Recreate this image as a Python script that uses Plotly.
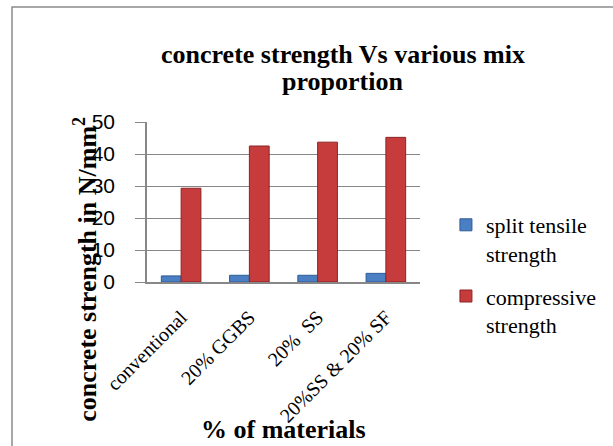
import plotly.graph_objects as go

categories = ["conventional", "20% GGBS", "20%  SS", "20%SS & 20% SF"]
split_tensile = [1.9, 2.1, 2.1, 2.7]
compressive = [29.3, 42.5, 43.7, 45.2]
series_names = ["split tensile<br>strength", "compressive<br>strength"]
y_ticks = [0, 10, 20, 30, 40, 50]

SERIF = "Liberation Serif"
SANS = "Liberation Sans"
GRID = "#878787"

fig = go.Figure()
fig.add_trace(go.Bar(
    x=categories, y=split_tensile, name=series_names[0], legendgroup="a",
    marker=dict(color="#4A7FC4", line=dict(color="#2E5B94", width=1)),
))
fig.add_trace(go.Bar(
    x=categories, y=compressive, name=series_names[1], legendgroup="b",
    marker=dict(color="#C63C3C", line=dict(color="#8E2323", width=1)),
))

fig.update_layout(
    width=613, height=446,
    margin=dict(l=147, r=191, t=122, b=164),
    paper_bgcolor="white", plot_bgcolor="white",
    barmode="group", bargap=0.42, bargroupgap=0,
    showlegend=True,
    font=dict(family=SERIF, color="black"),
    legend=dict(
        x=1.095, xanchor="left", y=1 - (204 - 122) / 160, yanchor="top",
        font=dict(family=SERIF, size=22, color="black"),
        valign="top", traceorder="grouped", tracegroupgap=11, itemwidth=30,
        bgcolor="rgba(0,0,0,0)",
    ),
    xaxis=dict(
        tickangle=-45, tickfont=dict(family=SERIF, size=20, color="black"),
        showgrid=False, showline=True, linecolor=GRID, linewidth=1.5,
        ticks="", ticklabelstandoff=14,
    ),
    yaxis=dict(
        range=[0, 50], tickvals=y_ticks,
        tickfont=dict(family=SANS, size=21, color="black"),
        showgrid=True, gridcolor=GRID, gridwidth=1.3,
        showline=True, linecolor=GRID, linewidth=1.5,
        ticks="outside", ticklen=10, tickcolor=GRID, tickwidth=1.3,
        ticklabelstandoff=16, zeroline=False,
    ),
    shapes=[dict(
        type="rect", xref="paper", yref="paper",
        x0=-136 / 275, x1=2.0, y0=-2.0, y1=1 + 115 / 160,
        line=dict(color="#8c8c8c", width=1.5), fillcolor="rgba(0,0,0,0)",
        layer="below",
    )],
    annotations=[
        dict(text="<b>concrete strength Vs various mix</b>", xref="paper", yref="paper",
             x=(344 - 147) / 275, y=1 + (122 - 54.5) / 160, xanchor="center", yanchor="middle",
             showarrow=False, font=dict(family=SERIF, size=26, color="black")),
        dict(text="<b>proportion</b>", xref="paper", yref="paper",
             x=(344 - 147) / 275, y=1 + (122 - 81.5) / 160, xanchor="center", yanchor="middle",
             showarrow=False, font=dict(family=SERIF, size=26, color="black")),
        dict(text="<b>% of materials</b>", xref="paper", yref="paper",
             x=0.5, y=-(429 - 281.7) / 160, xanchor="center", yanchor="middle",
             showarrow=False, font=dict(family=SERIF, size=26, color="black")),
        dict(text="<b>concrete strength in N/mm<sup>2</sup></b>", xref="paper", yref="paper",
             x=-(147 - 85) / 275, y=(281.7 - 269) / 160, xanchor="center", yanchor="middle",
             textangle=-90, showarrow=False,
             font=dict(family=SERIF, size=26, color="black")),
    ],
)

fig.write_html("out.html", config={"displayModeBar": False},
               post_script="document.body.style.margin='0';")
